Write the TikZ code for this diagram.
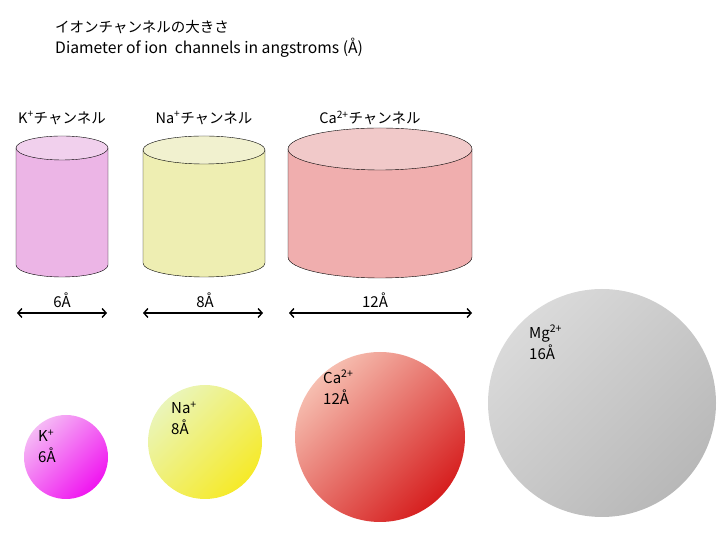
\documentclass[tikz,border=0pt]{standalone}
\usepackage{fontspec}
\setmainfont{Noto Sans CJK JP}
\newfontfamily\jp{Noto Sans CJK JP}
\usetikzlibrary{arrows.meta}

\definecolor{kbody}{RGB}{236,181,230}
\definecolor{ktop}{RGB}{241,208,237}
\definecolor{nabody}{RGB}{238,238,178}
\definecolor{natop}{RGB}{241,241,207}
\definecolor{cabody}{RGB}{240,174,174}
\definecolor{catop}{RGB}{241,201,201}

% x1, x2, top y, bottom y, y radius, body colour, top colour
\newcommand{\ionchannel}[7]{%
  \pgfmathsetmacro{\rx}{(#2-#1)/2}
  \pgfmathsetmacro{\cx}{(#1+#2)/2}
  \filldraw[fill=#6] (#1,#3) -- (#1,#4)
    arc[start angle=180, end angle=360, x radius=\rx, y radius=#5] -- (#2,#3) -- cycle;
  \filldraw[fill=#7] (\cx,#3) ellipse [x radius=\rx, y radius=#5];
}

\tikzset{
  txt/.style = {font=\fontsize{14.5}{18}\selectfont, inner sep=0pt},
  ionlabel/.style = {font=\fontsize{15}{21}\selectfont, inner sep=0pt, anchor=north west, align=left},
  ion/.style = {circle, inner sep=0pt, shading angle=45},
  width/.style = {{Straight Barb[length=4pt,width=9pt]}-{Straight Barb[length=4pt,width=9pt]}, line width=1.4pt}
}

\begin{document}
\begin{tikzpicture}[x=1pt, y=1pt]
\useasboundingbox (0,0) rectangle (720,540);

% title
\node[txt, anchor=west, font=\jp\fontsize{14.5}{18}\selectfont] (title) at (55,513) {イオンチャンネルの大きさ};
\node[txt, anchor=west, font=\fontsize{15.7}{18}\selectfont] (subtitle) at (55,492) {Diameter of ion\ \ channels in angstroms (Å)};

% channels
\node[txt] (klabel) at (62,422) {K\textsuperscript{+}チャンネル};
\node[txt] (nalabel) at (204,422) {Na\textsuperscript{+}チャンネル};
\node[txt] (calabel) at (370,422) {Ca\textsuperscript{2+}チャンネル};

\ionchannel{16}{108}{392}{275}{12}{kbody}{ktop}
\ionchannel{143}{265}{390}{277}{14}{nabody}{natop}
\ionchannel{288}{472}{391}{283}{21}{cabody}{catop}

% widths
\coordinate (kL) at (17,227);  \coordinate (kR) at (107,227);
\coordinate (naL) at (143,227); \coordinate (naR) at (263,227);
\coordinate (caL) at (289,227); \coordinate (caR) at (472,227);
\draw[width] (kL) -- (kR);
\draw[width] (naL) -- (naR);
\draw[width] (caL) -- (caR);
\node[txt, font=\fontsize{15}{18}\selectfont] (kwidth) at (62,240) {6Å};
\node[txt, font=\fontsize{15}{18}\selectfont] (nawidth) at (205,240) {8Å};
\node[txt, font=\fontsize{15}{18}\selectfont] (cawidth) at (375,240) {12Å};

% ions
\node[ion, minimum size=84pt, top color={rgb,255:red,245;green,185;blue,245}, bottom color={rgb,255:red,240;green,20;blue,240}, shading angle=45] (kion) at (66,83) {};
\node[ion, minimum size=114pt, top color={rgb,255:red,234;green,245;blue,185}, bottom color={rgb,255:red,246;green,234;blue,40}, shading angle=45] (naion) at (205,98) {};
\node[ion, minimum size=170pt, top color={rgb,255:red,246;green,190;blue,176}, bottom color={rgb,255:red,214;green,30;blue,30}, shading angle=45] (caion) at (380,103) {};
\node[ion, minimum size=228pt, top color={rgb,255:red,218;green,218;blue,218}, bottom color={rgb,255:red,184;green,184;blue,184}, shading angle=45] (mgion) at (602,137) {};

\node[ionlabel] (ktext) at (38,110) {K\textsuperscript{+}\\6Å};
\node[ionlabel] (natext) at (171,138) {Na\textsuperscript{+}\\8Å};
\node[ionlabel] (catext) at (323,170) {Ca\textsuperscript{2+}\\12Å};
\node[ionlabel] (mgtext) at (529,215) {Mg\textsuperscript{2+}\\16Å};
\end{tikzpicture}
\end{document}
